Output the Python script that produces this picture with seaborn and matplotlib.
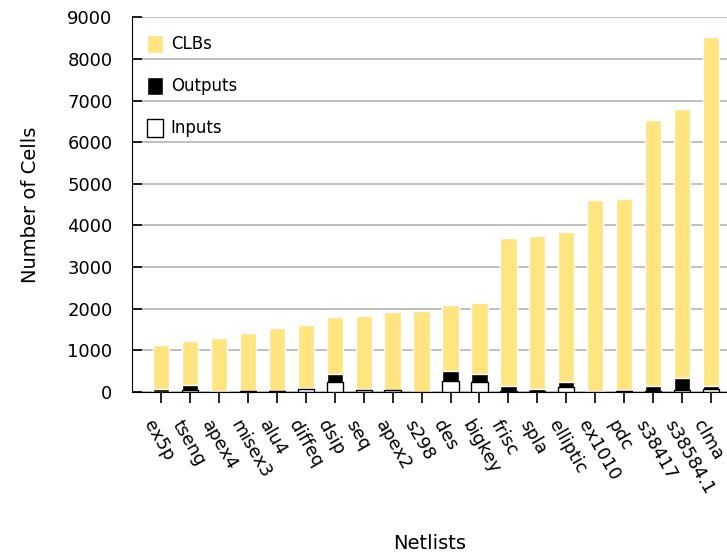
import numpy as np
import pandas as pd
import matplotlib
matplotlib.use("Agg")
import matplotlib.pyplot as plt
import matplotlib.transforms as mtransforms
import seaborn as sns

netlists = ["ex5p", "tseng", "apex4", "misex3", "alu4", "diffeq", "dsip", "seq",
            "apex2", "s298", "des", "bigkey", "frisc", "spla", "elliptic",
            "ex1010", "pdc", "s38417", "s38584.1", "clma"]
clbs = [1064, 1047, 1262, 1397, 1522, 1497, 1370, 1750, 1878, 1931,
        1591, 1707, 3556, 3690, 3604, 4598, 4575, 6406, 6447, 8383]
inputs = [8, 52, 9, 14, 14, 64, 229, 41, 38, 4,
          256, 229, 20, 16, 131, 10, 16, 28, 38, 62]
outputs = [63, 122, 19, 14, 8, 39, 197, 35, 3, 6,
           245, 197, 116, 46, 114, 10, 40, 106, 304, 82]

df = pd.DataFrame({"netlist": netlists, "clbs": clbs,
                   "inputs": inputs, "outputs": outputs})
df["io"] = df["inputs"] + df["outputs"]
df["total"] = df["io"] + df["clbs"]

sns.set_style("white")
plt.rcParams["font.family"] = ["DejaVu Sans"]
plt.rcParams["text.color"] = "black"
plt.rcParams["axes.labelcolor"] = "black"
plt.rcParams["xtick.color"] = "black"
plt.rcParams["ytick.color"] = "black"

fig = plt.figure(figsize=(7.27, 5.56), dpi=100)
ax = fig.add_axes([0.1816, 0.295, 0.8184, 0.674])

w = 0.56
sns.barplot(data=df, x="netlist", y="total", color="#ffe480", saturation=1,
            width=w, ax=ax, label="CLBs", zorder=3)
sns.barplot(data=df, x="netlist", y="io", color="black", saturation=1,
            width=w, ax=ax, label="Outputs", zorder=3)
sns.barplot(data=df, x="netlist", y="inputs", color="white", saturation=1,
            width=w, ax=ax, label="Inputs", edgecolor="black", linewidth=1,
            zorder=3)

ax.set_ylim(0, 9000)
ax.set_xlim(-1, 19.55)
ax.set_yticks(np.arange(0, 9001, 1000))
ax.yaxis.grid(True, color="#b4b4b4", linewidth=1.2, zorder=0)
ax.set_axisbelow(True)
for s in ["top", "right"]:
    ax.spines[s].set_visible(False)
ax.spines["left"].set_color("black")
ax.spines["bottom"].set_color("black")
ax.tick_params(axis="y", direction="in", length=7, width=1.2, labelsize=13,
               left=True, pad=14)
ax.tick_params(axis="x", direction="out", length=8, width=1.2, labelsize=12.8,
               bottom=True, pad=10)
# nudge rotated labels a few px left so the last one stays inside the figure
shift = mtransforms.ScaledTranslation(-4 / 72, 0, fig.dpi_scale_trans)
for lab in ax.get_xticklabels():
    lab.set_rotation(-60)
    lab.set_ha("left")
    lab.set_va("top")
    lab.set_rotation_mode("anchor")
    lab.set_transform(lab.get_transform() + shift)

ax.set_ylabel("Number of Cells", fontsize=14, labelpad=20)
ax.set_xlabel("Netlists", fontsize=14, va="center")
ax.xaxis.set_label_coords(0.5, -0.403)

h, l = ax.get_legend_handles_labels()
ax.legend(h, l, loc="upper left", frameon=False, fontsize=12,
          labelspacing=1.4, handlelength=1.0, handleheight=1.3,
          handletextpad=0.45, borderaxespad=0.3, bbox_to_anchor=(0.005, 0.985))

fig.savefig("out.png", dpi=100)
